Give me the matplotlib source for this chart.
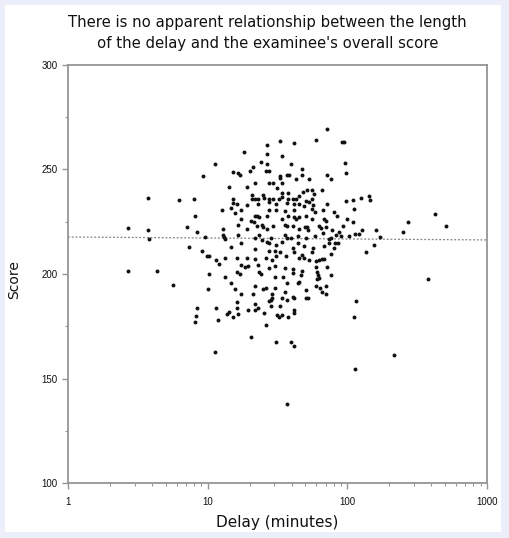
import numpy as np
import matplotlib
matplotlib.use("Agg")
import matplotlib.pyplot as plt
from matplotlib.ticker import FixedLocator, NullFormatter, LogLocator
from matplotlib.patches import Rectangle

# delay in minutes and overall score
delay = [
    2.68, 2.68, 3.73, 3.73, 3.79, 4.32, 5.62, 6.21, 7.94, 8.07, 7.08, 8.35,
    7.31, 9.52, 9.21, 11.2, 9.06, 9.84, 10.3, 11.4, 12.0, 10.2, 10.0, 8.35,
    8.21, 8.07, 11.4, 11.8, 11.2, 12.6, 12.8,
    72.0, 60.0, 92.1, 95.2, 33.2, 41.8, 26.4, 18.1, 26.4, 34.3, 23.9, 26.8,
    96.8, 39.8, 21.0, 47.7, 20.0, 26.0, 27.3, 15.3, 16.6, 16.9, 98.4, 36.7,
    38.5, 33.2, 32.7, 47.0, 72.0, 43.2, 53.5, 76.8, 22.0, 27.7, 29.6, 33.8,
    14.1, 19.0, 31.6, 51.8, 56.2, 48.5, 66.3, 34.3, 37.9, 20.6, 24.7, 58.1,
    44.7,
    15.1, 20.6, 22.0, 23.1, 25.5, 27.7, 29.6, 32.2, 34.3, 37.9, 40.5, 43.2,
    51.0, 56.2, 98.4,
    15.1, 16.1, 19.0, 23.1, 27.3, 31.1, 36.7, 41.8, 45.4, 49.3, 53.5, 57.1,
    72.0,
    14.8, 17.2, 27.7, 31.1, 35.5, 41.2, 56.2, 59.1, 67.4, 80.7,
    15.6, 17.2, 20.3, 21.7, 22.4, 23.5, 21.3, 26.4, 34.3, 37.9, 41.8, 44.7,
    43.2, 51.0, 56.2, 68.5, 70.8, 84.8, 100,
    16.4, 19.0, 22.4, 24.3, 25.1, 26.4, 29.6, 35.5, 36.7, 40.5, 44.7, 50.1,
    51.8, 52.7, 63.1, 65.2, 70.8, 78.1, 87.7, 93.6,
    12.8, 13.0, 13.2, 16.6, 21.7, 23.5, 24.3, 28.2, 35.5, 36.7, 39.8, 44.0,
    51.0, 59.1, 67.4, 74.4, 76.8, 83.5, 90.6, 103,
    14.6, 17.2, 26.4, 27.3, 31.1, 34.3, 40.5, 44.0, 49.3, 57.1, 74.4, 82.1,
    86.3, 68.5,
    13.4, 16.1, 19.0, 21.7, 21.7, 26.0, 27.7, 30.1, 31.1, 32.7, 29.1, 36.1,
    41.8, 44.7, 47.0, 49.3, 53.5, 56.2, 63.1, 66.3, 68.5, 76.8, 80.7, 60.0,
    17.2, 18.4, 19.6, 16.1, 16.9, 23.1, 23.5, 23.9, 27.3, 30.1, 35.5, 40.5,
    40.5, 47.0, 60.0, 61.1, 62.1, 72.0, 13.4, 30.1, 34.9, 46.2, 76.8,
    14.6, 15.6, 17.2, 21.7, 24.7, 26.0, 21.0, 30.1, 35.5, 36.7, 44.0, 45.4,
    51.0, 61.1, 63.1, 60.0, 64.2, 70.8, 66.3, 70.8, 51.0, 52.7, 29.1, 27.3,
    28.2, 29.1, 33.8, 36.7, 40.5, 41.8, 16.1, 22.0, 28.2, 32.7, 16.1, 19.6,
    22.0, 22.8, 25.5, 41.8, 41.8, 14.1, 13.7, 16.6, 15.1, 31.6, 32.2, 34.3,
    37.9, 26.0, 20.3, 31.1, 39.8, 41.8,
    109, 126, 144, 146, 112, 109, 128, 114, 122, 161, 172, 156, 137, 116,
    112, 114, 217, 251, 273, 425, 509, 379, 36.7,
]
score = [
    222.0, 201.4, 236.4, 221.1, 216.7, 201.4, 194.7, 235.4, 235.9, 227.8,
    222.5, 220.1, 212.9, 217.7, 246.9, 252.6, 211.0, 208.6, 208.6, 206.7,
    204.8, 200.0, 192.8, 183.7, 179.9, 177.0, 183.7, 178.0, 162.7, 230.6,
    221.5,
    269.4, 264.1, 263.2, 263.2, 263.6, 262.7, 261.7, 258.4, 257.4, 256.5,
    253.6, 252.6, 253.1, 252.6, 251.2, 250.2, 249.3, 249.3, 249.3, 248.8,
    248.3, 247.4, 248.3, 247.4, 247.4, 246.9, 245.9, 247.4, 247.4, 245.5,
    245.5, 245.5, 243.5, 243.5, 243.5, 243.5, 241.6, 241.6, 241.1, 240.2,
    240.2, 239.2, 240.2, 238.8, 238.8, 237.8, 237.8, 238.3, 237.3,
    235.9, 235.9, 235.9, 235.9, 236.4, 235.9, 235.9, 235.9, 236.8, 235.9,
    235.9, 235.9, 234.9, 235.9, 234.9,
    234.0, 233.5, 233.0, 233.5, 234.4, 233.5, 234.0, 233.5, 233.5, 232.5,
    234.4, 233.0, 233.5,
    231.6, 230.6, 230.6, 230.6, 230.1, 230.6, 231.1, 229.7, 230.6, 229.7,
    229.2, 226.3, 225.4, 227.8, 227.8, 227.3, 224.9, 227.8, 226.3, 227.8,
    227.3, 227.3, 226.3, 227.8, 226.3, 226.3, 225.4, 227.8, 226.3,
    223.4, 221.5, 223.0, 223.4, 222.5, 221.5, 223.0, 223.4, 223.0, 223.0,
    221.5, 222.5, 222.5, 221.1, 223.0, 222.0, 222.5, 221.1, 220.1, 223.0,
    218.7, 217.7, 216.7, 218.7, 217.2, 218.7, 216.3, 217.2, 218.7, 217.2,
    217.2, 218.2, 217.2, 218.2, 219.6, 216.7, 217.2, 218.7, 218.2, 218.2,
    212.9, 214.8, 215.3, 214.8, 213.9, 215.3, 212.4, 214.8, 213.4, 212.4,
    214.8, 214.8, 214.8, 213.4,
    207.6, 207.6, 207.6, 212.0, 207.2, 207.6, 211.0, 211.0, 208.6, 210.5,
    206.7, 208.6, 210.5, 207.6, 209.1, 207.6, 206.7, 210.5, 206.7, 207.2,
    207.2, 209.6, 212.4, 206.2,
    204.3, 203.4, 203.8, 201.0, 200.0, 204.3, 201.0, 200.0, 202.9, 203.8,
    202.9, 202.4, 200.5, 201.4, 203.4, 201.0, 199.5, 203.4, 198.6, 198.6,
    198.6, 199.5, 199.5,
    195.7, 192.8, 190.4, 194.3, 192.8, 193.3, 190.4, 193.3, 191.4, 195.7,
    195.7, 196.2, 192.3, 197.6, 198.1, 194.3, 193.3, 194.3, 191.4, 190.4,
    188.5, 188.5, 190.4, 187.1, 187.5, 188.5, 188.5, 187.5, 189.0, 188.5,
    186.6, 185.6, 184.7, 184.7, 183.7, 182.7, 182.7, 183.7, 181.3, 182.7,
    181.3, 181.8, 180.8, 180.8, 179.4, 180.4, 179.4, 180.4, 179.4, 175.6,
    169.8, 167.5, 167.5, 165.5,
    235.4, 236.4, 237.3, 235.4, 231.1, 224.9, 221.1, 219.1, 219.1, 221.1,
    217.7, 213.9, 210.5, 187.1, 179.4, 154.5, 161.2, 220.1, 224.9, 228.7,
    223.0, 197.6, 137.8,
]

# fitted trend line (nearly flat)
fit_delay = [1, 1000]
fit_score = [217.7, 216.3]

title = ("There is no apparent relationship between the length\n"
         "of the delay and the examinee's overall score")
x_ticks = [1, 10, 100, 1000]
x_labels = ["1", "10", "100", "1000"]
y_ticks = [100, 150, 200, 250, 300]

BG = "#eceefa"
AXIS = "#959595"

fig = plt.figure(figsize=(5.09, 5.38), dpi=100, facecolor=BG)
fig.patches.append(Rectangle((0.010, 0.012), 0.975, 0.978,
                             transform=fig.transFigure, facecolor="white",
                             edgecolor="none", zorder=-1))

ax = fig.add_axes([0.1336, 0.1022, 0.8232, 0.777])
ax.set_xscale("log")
ax.set_xlim(1, 1000)
ax.set_ylim(100, 300)

ax.plot(fit_delay, fit_score, color="#808080", lw=0.9,
        linestyle=(0, (1.5, 1.5)), zorder=1)
ax.scatter(delay, score, s=8, color="#111111", linewidths=0, zorder=2)

ax.xaxis.set_major_locator(FixedLocator(x_ticks))
ax.set_xticklabels(x_labels)
ax.xaxis.set_minor_locator(LogLocator(base=10, subs=np.arange(2, 10)))
ax.xaxis.set_minor_formatter(NullFormatter())
ax.yaxis.set_major_locator(FixedLocator(y_ticks))
ax.yaxis.set_minor_locator(FixedLocator([125, 175, 225, 275]))

for sp in ax.spines.values():
    sp.set_color(AXIS)
    sp.set_linewidth(1.3)
ax.tick_params(which="both", direction="out", color=AXIS, labelsize=7,
               labelcolor="#111111", top=False, right=False)
ax.tick_params(which="major", length=4, width=1)
ax.tick_params(which="minor", length=2.5, width=0.8)
ax.tick_params(axis="x", pad=6)
for lbl in ax.get_xticklabels() + ax.get_yticklabels():
    lbl.set_family(["Liberation Sans", "DejaVu Sans"])

fig.text(0.525, 0.938, title, ha="center", va="center", fontsize=10.7,
         linespacing=1.5, color="#111111")
fig.text(0.544, 0.028, "Delay (minutes)", ha="center", va="center",
         fontsize=11, color="#111111")
fig.text(0.028, 0.48, "Score", ha="center", va="center", rotation=90,
         fontsize=10, color="#111111")

fig.savefig("out.png", dpi=100, facecolor=BG)
